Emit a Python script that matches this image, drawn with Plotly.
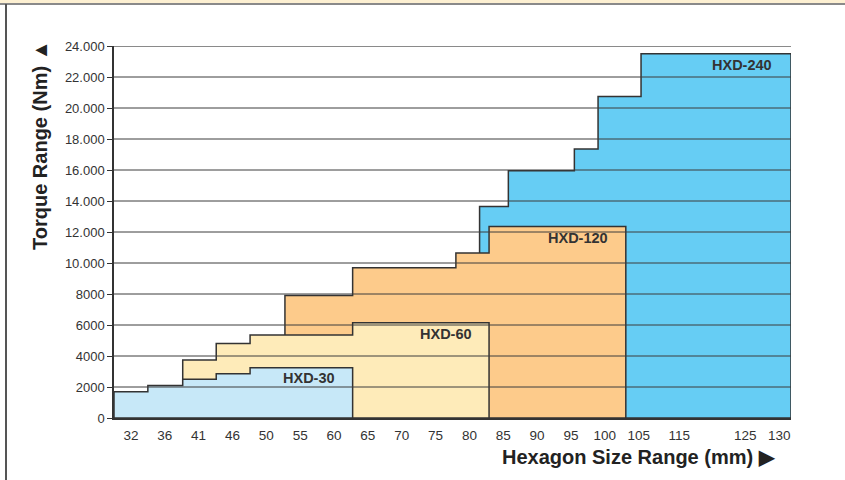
import plotly.graph_objects as go

# ---- data (x in size-slot units along the axis, y in Nm) ----
size_labels = ["32", "36", "41", "46", "50", "55", "60", "65", "70", "75", "80",
               "85", "90", "95", "100", "105", "115", "125", "130"]
size_slots = [0.5, 1.5, 2.5, 3.5, 4.5, 5.5, 6.5, 7.5, 8.5, 9.5, 10.5,
              11.5, 12.5, 13.5, 14.5, 15.5, 16.7, 18.65, 19.65]

y_ticks = [0, 2000, 4000, 6000, 8000, 10000, 12000, 14000, 16000, 18000, 20000, 22000, 24000]
y_tick_text = ["0", "2000", "4000", "6000", "8000", "10.000", "12.000", "14.000",
               "16.000", "18.000", "20.000", "22.000", "24.000"]

hxd30_edges = [0, 1.0, 2.03, 3.02, 4.02, 7.05]
hxd30_torque = [1700, 2100, 2500, 2850, 3250]

hxd60_edges = [2.03, 3.02, 4.02, 7.05, 11.08]
hxd60_torque = [3750, 4800, 5350, 6150]

hxd120_edges = [5.05, 7.05, 10.1, 11.08, 15.12]
hxd120_torque = [7900, 9700, 10650, 12350]

hxd240_edges = [10.8, 11.65, 13.6, 14.3, 15.57, 20]
hxd240_torque = [13650, 15950, 17350, 20750, 23500]

series = [
    ("HXD-240", hxd240_edges, hxd240_torque, "#66CDF4", 18.55, 22750),
    ("HXD-120", hxd120_edges, hxd120_torque, "#FDCB8B", 13.72, 11600),
    ("HXD-60", hxd60_edges, hxd60_torque, "#FEEBB9", 9.82, 5400),
    ("HXD-30", hxd30_edges, hxd30_torque, "#C7E8F8", 5.75, 2550),
]


def step_polygon(edges, heights):
    xs, ys = [edges[0]], [0]
    for i, h in enumerate(heights):
        xs += [edges[i], edges[i + 1]]
        ys += [h, h]
    xs += [edges[-1], edges[0]]
    ys += [0, 0]
    return xs, ys


fig = go.Figure()
for name, edges, torque, color, lx, ly in series:
    xs, ys = step_polygon(edges, torque)
    fig.add_trace(go.Scatter(
        x=xs, y=ys, mode="lines", fill="toself", fillcolor=color,
        line=dict(color="#333333", width=1.5), name=name,
        showlegend=False, hoverinfo="skip",
    ))

# plot area in pixels
L, R, T, B = 114, 791, 46, 418
W, H = R - L, B - T


def px(xp):
    return (xp - L) / W


def py(yp):
    return (B - yp) / H


shapes = []
# grid lines drawn above the filled areas
for v in y_ticks[1:]:
    top = v == y_ticks[-1]
    shapes.append(dict(type="line", xref="x", yref="y", x0=0, x1=20, y0=v, y1=v,
                       layer="above",
                       line=dict(color="#8a8a8a" if top else "#3c3c3c", width=2 if top else 1)))
# outer frame decoration
shapes.append(dict(type="rect", xref="paper", yref="paper", x0=px(0), x1=px(845),
                   y0=py(3.5), y1=py(0), fillcolor="#FDF0D2", line=dict(width=0), layer="below"))
shapes.append(dict(type="line", xref="paper", yref="paper", x0=px(0), x1=px(845),
                   y0=py(4), y1=py(4), line=dict(color="#8a8a8a", width=2)))
shapes.append(dict(type="line", xref="paper", yref="paper", x0=px(6), x1=px(6),
                   y0=py(480), y1=py(4), line=dict(color="#555555", width=2)))

annotations = []
for name, edges, torque, color, lx, ly in series:
    annotations.append(dict(x=lx, y=ly, xref="x", yref="y", text="<b>" + name + "</b>",
                            showarrow=False, font=dict(size=14.5, color="#333333")))
annotations.append(dict(x=px(778), y=py(457), xref="paper", yref="paper",
                        xanchor="right", yanchor="middle", showarrow=False,
                        text="<b>Hexagon Size Range (mm) ▶</b>",
                        font=dict(size=20, color="#222222")))
annotations.append(dict(x=px(40), y=py(146), xref="paper", yref="paper",
                        xanchor="center", yanchor="middle", textangle=-90, showarrow=False,
                        text="<b>Torque Range (Nm) ▲</b>",
                        font=dict(size=20, color="#222222")))

fig.update_layout(
    width=845, height=480,
    margin=dict(l=L, r=845 - R, t=T, b=480 - B, pad=0),
    paper_bgcolor="white", plot_bgcolor="white",
    font=dict(family="Liberation Sans, Arial, sans-serif", color="#333333"),
    shapes=shapes, annotations=annotations,
    xaxis=dict(range=[0, 20], tickvals=size_slots, ticktext=size_labels,
               showgrid=False, zeroline=False, showline=True, linecolor="#333333",
               linewidth=1.5, ticks="", tickfont=dict(size=13.5, color="#333333"),
               ticklabelstandoff=4, fixedrange=True),
    yaxis=dict(range=[0, 24000], tickvals=y_ticks, ticktext=y_tick_text,
               showgrid=False, zeroline=False, showline=True, linecolor="#333333",
               linewidth=1.5, ticks="outside", ticklen=5, tickcolor="#333333",
               tickfont=dict(size=13, color="#333333"), layer="above traces",
               fixedrange=True),
)

fig.write_html("out.html", config={"displayModeBar": False},
               post_script="document.body.style.margin='0';document.body.style.overflow='hidden';")
